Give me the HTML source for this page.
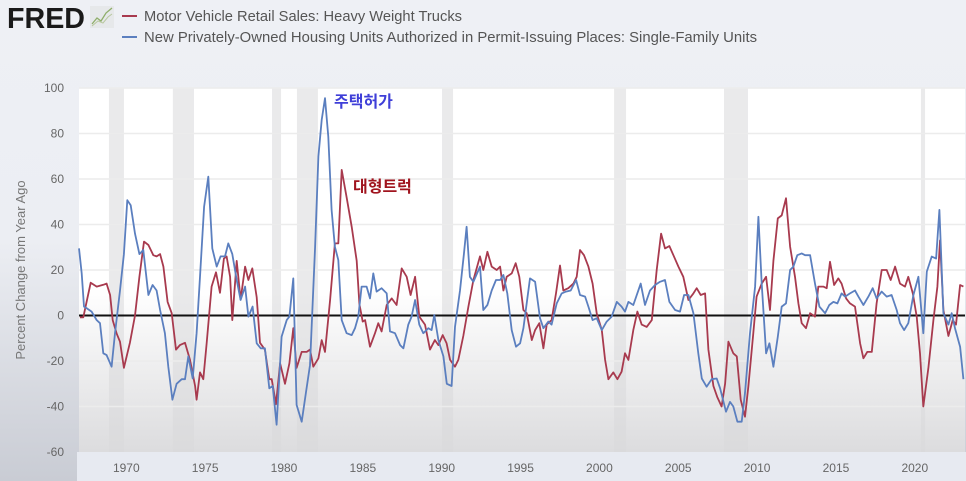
<!DOCTYPE html>
<html><head><meta charset="utf-8">
<style>
html,body{margin:0;padding:0;width:966px;height:481px;overflow:hidden;background:#eef0f5;}
svg{display:block;font-family:"Liberation Sans","Noto Sans CJK KR",sans-serif;}
</style></head>
<body>
<svg id="chart" width="966" height="481" viewBox="0 0 966 481" xmlns="http://www.w3.org/2000/svg">
<defs>
<linearGradient id="bgG" x1="0" y1="0" x2="0" y2="1">
<stop offset="0" stop-color="#eef0f5"/><stop offset="0.5" stop-color="#eceef3"/><stop offset="1" stop-color="#c9ccd4"/>
</linearGradient>
<linearGradient id="plotG" x1="0" y1="0" x2="0" y2="1">
<stop offset="0" stop-color="#ffffff"/><stop offset="0.55" stop-color="#ffffff"/><stop offset="1" stop-color="#dcdcde"/>
</linearGradient>
</defs>
<rect x="0" y="0" width="966" height="481" fill="url(#bgG)"/>
<rect x="77" y="452" width="889" height="29" fill="#e7eaf1"/>
<rect x="79" y="88" width="886" height="364" fill="url(#plotG)"/>
<g id="rec"></g>
<g id="grid"></g>
<g id="ylab"></g>
<g id="xlab"></g>
<g id="series"></g>
<text x="7" y="28" font-size="29" font-weight="bold" fill="#1a1a1a" textLength="78" lengthAdjust="spacingAndGlyphs">FRED</text>
<g>
<rect x="90" y="6" width="24" height="22" fill="#e6e8ea"/>
<polyline points="92,24 97,18 101,21 106,13 112,8" fill="none" stroke="#8fae6a" stroke-width="1.3"/>
<polyline points="92,26 98,21 103,23 108,17 112,14" fill="none" stroke="#b9c8a0" stroke-width="1"/>
</g>
<g>
<line x1="122" y1="16" x2="137" y2="16" stroke="#a83a4e" stroke-width="2"/>
<text x="144" y="21" font-size="14.5" fill="#555" textLength="318" lengthAdjust="spacingAndGlyphs">Motor Vehicle Retail Sales: Heavy Weight Trucks</text>
</g>
<g>
<line x1="122" y1="37" x2="137" y2="37" stroke="#5b7fbf" stroke-width="2"/>
<text x="144" y="42" font-size="14.5" fill="#555" textLength="613" lengthAdjust="spacingAndGlyphs">New Privately-Owned Housing Units Authorized in Permit-Issuing Places: Single-Family Units</text>
</g>
<text transform="translate(25,270) rotate(-90)" text-anchor="middle" font-size="13" fill="#777">Percent Change from Year Ago</text>
<text x="334" y="107" font-size="16" font-weight="bold" fill="#3f3fd8">주택허가</text>
<text x="353" y="192" font-size="16" font-weight="bold" fill="#a0141e">대형트럭</text>
</svg>
<script>
const yTicks=[100,80,60,40,20,0,-20,-40,-60];
const xTicks=[1970,1975,1980,1985,1990,1995,2000,2005,2010,2015,2020];
const recStart=[1968.95,1973.0,1979.29,1980.87,1990.07,2000.98,2007.95,2020.44];
const recEnd=[1969.9,1974.34,1979.86,1982.2,1990.77,2001.74,2009.47,2020.7];
const truckYears=[1967.11,1967.32,1967.79,1968.17,1968.59,1968.80,1969.02,1969.19,1969.44,1969.65,1969.90,1970.28,1970.60,1970.88,1971.17,1971.45,1971.76,1971.97,1972.19,1972.40,1972.67,1972.93,1973.20,1973.45,1973.77,1974.09,1974.41,1974.51,1974.72,1974.93,1975.15,1975.46,1975.74,1975.99,1976.24,1976.41,1976.63,1976.77,1977.05,1977.30,1977.58,1977.79,1978.04,1978.32,1978.53,1978.84,1979.12,1979.27,1979.54,1979.80,1980.11,1980.39,1980.64,1980.85,1981.17,1981.49,1981.70,1981.91,1982.23,1982.44,1982.65,1982.97,1983.28,1983.49,1983.71,1984.02,1984.34,1984.66,1984.83,1985.04,1985.19,1985.50,1985.82,1986.03,1986.24,1986.56,1986.88,1987.19,1987.51,1987.83,1988.08,1988.36,1988.63,1988.99,1989.31,1989.62,1989.84,1990.11,1990.36,1990.58,1990.89,1991.10,1991.42,1991.74,1992.06,1992.48,1992.69,1992.95,1993.22,1993.54,1993.75,1993.96,1994.17,1994.49,1994.74,1994.97,1995.23,1995.44,1995.76,1995.97,1996.24,1996.50,1996.71,1997.02,1997.30,1997.55,1997.76,1998.08,1998.40,1998.61,1998.82,1999.07,1999.35,1999.62,1999.88,2000.20,2000.41,2000.62,2000.93,2001.19,2001.46,2001.67,2001.89,2002.20,2002.46,2002.73,2003.05,2003.37,2003.68,2003.96,2004.21,2004.49,2004.74,2005.06,2005.37,2005.69,2006.01,2006.22,2006.47,2006.75,2006.96,2007.28,2007.53,2007.80,2008.02,2008.23,2008.54,2008.76,2009.01,2009.28,2009.50,2009.81,2010.02,2010.34,2010.62,2010.87,2011.08,2011.36,2011.61,2011.88,2012.14,2012.45,2012.67,2012.88,2013.15,2013.41,2013.72,2013.93,2014.25,2014.46,2014.67,2014.93,2015.20,2015.41,2015.69,2015.94,2016.26,2016.58,2016.79,2017.04,2017.32,2017.63,2017.95,2018.27,2018.52,2018.80,2019.11,2019.43,2019.64,2019.92,2020.17,2020.38,2020.59,2020.91,2021.23,2021.48,2021.65,2021.86,2022.18,2022.45,2022.66,2022.92,2023.13];
const truckValues=[-0.8,-0.8,14.4,12.7,13.5,14,9,-2,-8,-11.5,-23,-12,0,17,32.5,31,26.5,26,27,21.5,6,1,-15,-13,-12,-19.5,-31,-37,-25,-28,-12,12.7,19,10,25,26,17,-2,24,7,21.5,15.6,20.7,8,-12,-15,-28,-28,-39,-21,-30,-21,-5.6,-23,-16,-16,-15,-22.5,-18.8,-10.8,-16,6.8,31.7,31.7,64,52,39,24,5,-2.7,-2,-13.7,-7.8,-3.4,-7,4.6,7.5,4.6,20.7,17,9,17,-0.5,-4,-15,-10.8,-13,-8.6,-12.2,-19.5,-22.5,-19.5,-9,3.9,15.6,26,20,28,21.5,20,21.5,11,17,18.5,23,17,2.4,1,-10.8,-6.4,-3.4,-14.4,-4,-2,9.7,22,11,12,14,17,28.8,26.5,21.5,14,1,-6.4,-19.5,-28,-25,-28,-24.7,-16.6,-19.5,-6.4,1.7,-4,-5,-2,20,36,29.5,30.5,26.5,21.5,17,6.8,9.7,12,9,9.7,-15,-31,-36,-40,-30,-11.5,-16.6,-18,-37,-44.5,-31,-7.8,8.3,14,17,2.4,24,42.7,44,51.5,30.3,17,5.3,-3.4,-5.6,1,-0.5,12.7,12.7,12,23.6,13.4,16.3,14,7.5,5.3,3.9,-12.2,-18.8,-16,-16,5.3,20,20,15.6,21.5,14,12.7,17,9.7,-0.5,-16.6,-40,-23,-2,12.7,33,2.4,-9,-2,-4,13.4,12.7];
const houseYears=[1967.05,1967.22,1967.37,1967.58,1967.85,1968.17,1968.38,1968.59,1968.80,1969.12,1969.33,1969.65,1969.90,1970.11,1970.33,1970.60,1970.88,1971.13,1971.45,1971.72,1971.97,1972.19,1972.50,1972.71,1972.97,1973.24,1973.56,1973.77,1973.98,1974.26,1974.51,1974.72,1974.98,1975.25,1975.50,1975.78,1976.03,1976.31,1976.52,1976.77,1977.05,1977.30,1977.58,1977.79,1978.06,1978.32,1978.57,1978.84,1979.12,1979.33,1979.58,1979.90,1980.22,1980.39,1980.64,1980.85,1981.17,1981.44,1981.70,1982.02,1982.23,1982.44,1982.65,1982.86,1983.07,1983.28,1983.49,1983.71,1984.02,1984.34,1984.55,1984.76,1984.97,1985.29,1985.50,1985.71,1985.92,1986.24,1986.56,1986.77,1987.09,1987.41,1987.62,1987.93,1988.14,1988.36,1988.63,1988.88,1989.20,1989.41,1989.58,1989.84,1990.16,1990.37,1990.68,1990.89,1991.21,1991.46,1991.63,1991.84,1992.06,1992.48,1992.69,1992.95,1993.22,1993.49,1993.75,1993.96,1994.21,1994.49,1994.76,1995.02,1995.23,1995.65,1995.97,1996.28,1996.50,1996.81,1997.02,1997.34,1997.66,1997.93,1998.23,1998.57,1998.82,1999.14,1999.35,1999.62,1999.88,2000.20,2000.51,2000.83,2001.15,2001.46,2001.67,2001.89,2002.20,2002.67,2002.94,2003.26,2003.58,2003.89,2004.21,2004.49,2004.85,2005.16,2005.42,2005.69,2006.01,2006.32,2006.54,2006.85,2007.17,2007.49,2007.70,2008.08,2008.33,2008.54,2008.80,2009.07,2009.28,2009.60,2009.92,2010.13,2010.34,2010.62,2010.83,2011.08,2011.36,2011.61,2011.88,2012.14,2012.35,2012.60,2012.88,2013.09,2013.41,2013.72,2014.00,2014.36,2014.63,2014.89,2015.14,2015.41,2015.63,2015.94,2016.26,2016.47,2016.79,2017.11,2017.38,2017.63,2017.95,2018.27,2018.58,2018.90,2019.11,2019.37,2019.64,2019.96,2020.28,2020.59,2020.81,2021.12,2021.40,2021.61,2021.86,2022.18,2022.39,2022.60,2022.92,2023.13];
const houseValues=[29.5,18.5,3.9,3,1.7,-2,-3.4,-16.6,-17.4,-22.5,-7.8,11,27,50.7,48.5,36,27,28.8,9,13.4,11,2.4,-7.8,-22.5,-37,-30,-28,-28,-18,-27.7,-7.8,17,47.8,61,29.5,21.5,26,26,31.7,27,15.6,6.8,12.7,-0.5,3.9,-12.2,-14.4,-14.4,-32,-31,-48,-9.3,-2,-0.5,16.3,-39.3,-46.7,-34,-21.8,30.2,70,86,95.5,78.6,46.4,30.2,24.4,-2,-7.8,-8.6,-5.6,-0.5,12.7,12.7,7.5,18.5,10.5,12,9.7,-7,-7.8,-13,-14.4,-4,-0.5,6.8,-4,-7.8,-5.6,-6.4,0.2,-10.8,-18,-30,-31,-5,11,27,39,17,14.8,21.5,2.4,4.6,11,15.6,15.6,17.8,9.7,-6.4,-13.7,-12.2,-5.6,16.3,14.8,-1.2,-5.6,-2.7,-4,5.3,9.7,10.5,11,15.6,9,8.3,3.9,-2,-1.2,-6.4,-2.7,-0.5,6,3.9,1.7,6,4.6,14,4.6,11,13.4,14.8,15.6,6,2.4,1.7,9,9,1,-16.6,-27.7,-31.3,-28,-27.7,-32,-42.3,-38,-40,-46.7,-46.7,-34,-7.8,12.7,43.4,14,-16.6,-12.2,-22.5,-9.3,3.9,5.3,20,21.5,26.5,27.3,26.5,26.5,14,3.9,1,4.6,6,5.3,9.7,8.3,9.7,11,8.3,4.6,8.3,12,7.5,10.5,8.3,9,2.4,-3.4,-6.4,-3.4,9,17,-7.8,19.3,25.9,25,46.4,1,-4,1,-5.6,-13.7,-28];

const NS='http://www.w3.org/2000/svg';
const X0=79,X1=965,Y0=88,Y1=452;
const yMin=-60,yMax=100,tMin=1967.05,pxPerYear=15.77;
function xs(t){return X0+(t-tMin)*pxPerYear;}
function ys(v){return Y1-(v-yMin)/(yMax-yMin)*(Y1-Y0);}
function mk(tag,attrs,parent){const e=document.createElementNS(NS,tag);for(const k in attrs)e.setAttribute(k,attrs[k]);parent.appendChild(e);return e;}

const rec=document.getElementById('rec');
recStart.forEach((s,i)=>{
  const r=mk('rect',{x:xs(s),y:Y0,width:Math.max(2,xs(recEnd[i])-xs(s)),height:Y1-Y0,fill:'#d8d8da','fill-opacity':'0.55'},rec);
  
  
});
const grid=document.getElementById('grid'),ylab=document.getElementById('ylab'),xlab=document.getElementById('xlab');
yTicks.forEach(v=>{
  if(v!==0&&v!==yMin){
    const l=mk('line',{x1:X0,x2:X1,y1:ys(v),y2:ys(v),stroke:'#ececec','stroke-width':1.5},grid);
    
    
  }
  const t=mk('text',{x:64,y:ys(v)+4,'text-anchor':'end','font-size':12,fill:'#666'},ylab);
  t.textContent=v;
  
  
});
xTicks.forEach(yr=>{
  const t=mk('text',{x:xs(yr+0.05),y:472,'text-anchor':'middle','font-size':12,fill:'#666'},xlab);
  t.textContent=yr;
  
  
});
const series=document.getElementById('series');
const zl=mk('line',{x1:X0,x2:X1,y1:ys(0),y2:ys(0),stroke:'#111','stroke-width':2},series);


function line(ts,vs,color,name){
  const p=mk('polyline',{points:ts.map((t,i)=>xs(t).toFixed(1)+','+ys(vs[i]).toFixed(1)).join(' '),fill:'none',stroke:color,'stroke-width':1.8,'stroke-linejoin':'round'},series);
  
  
}
line(truckYears,truckValues,'#a83a4e','trucks-line');
line(houseYears,houseValues,'#5b7fbf','housing-permits-line');
</script>
</body></html>
